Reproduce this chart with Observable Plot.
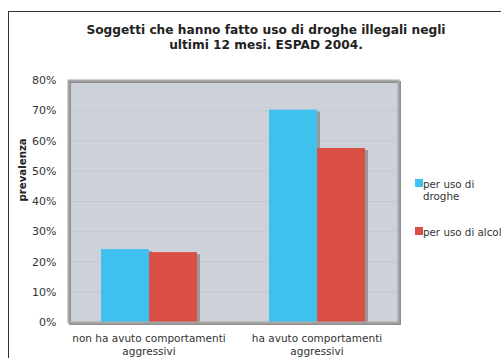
<!DOCTYPE html>
<html>
<head>
<meta charset="utf-8">
<script src="https://cdn.jsdelivr.net/npm/d3@7"></script>
<script src="https://cdn.jsdelivr.net/npm/@observablehq/plot@0.6"></script>
<style>
  body { margin: 0; background: #fff; font-family: Verdana, "DejaVu Sans", sans-serif; }
  #wrap { position: relative; width: 501px; height: 358px; overflow: hidden; }
  #wrap svg { position: absolute; left: 0; top: 0; }
  #outer { position: absolute; left: 8px; top: 11px; width: 600px; height: 400px;
           border-left: 1px solid #333; border-top: 1px solid #333; pointer-events: none; }
  #title { position: absolute; left: 36px; top: 22.5px; width: 460px; text-align: center;
           font-weight: bold; font-size: 12.2px; line-height: 15.5px; color: #222; }
  #legend { position: absolute; left: 415px; top: 177.5px; display: flex; flex-direction: column; gap: 24px; }
  .item { position: relative; padding-left: 8px; width: 84px; font-size: 10.3px; line-height: 12px; color: #333; }
  .sw { position: absolute; left: 0; top: 1.5px; width: 8px; height: 8px; }
</style>
</head>
<body>
<div id="wrap">
  <div id="outer"></div>
  <div id="title"></div>
  <div id="legend"></div>
</div>
<script>
const titleLines = ["Soggetti che hanno fatto uso di droghe illegali negli", "ultimi 12 mesi. ESPAD 2004."];
const categories = ["non ha avuto comportamenti aggressivi", "ha avuto comportamenti aggressivi"];
const series = ["per uso di droghe", "per uso di alcol"];
const droghe = [24.1, 70.2];
const alcol = [23.1, 57.5];
const yTicks = [0, 10, 20, 30, 40, 50, 60, 70, 80];
const colors = ["#3ec1ee", "#d94f43"];
const yLabel = "prevalenza";

const data = categories.flatMap((c, i) => [
  {cat: c, s: series[0], v: droghe[i]},
  {cat: c, s: series[1], v: alcol[i]}
]);

const common = {
  width: 501, height: 358,
  marginLeft: 68, marginRight: 103, marginTop: 80, marginBottom: 36,
  style: {fontFamily: "Verdana, 'DejaVu Sans', sans-serif", fontSize: "10px", color: "#333", background: "transparent"},
  y: {domain: [0, 80], axis: null}
};

// Layer 1: plot area background, grid, y tick labels, y title
const back = Plot.plot({
  ...common,
  marks: [
    Plot.frame({fill: "#cdd1da"}),
    Plot.gridY(yTicks, {stroke: "#c3c7d0", strokeOpacity: 1}),
    Plot.text(yTicks, {y: d => d, text: d => d + "%", frameAnchor: "left", dx: -12, textAnchor: "end", fill: "#333", fontSize: 11}),
    Plot.text([yLabel], {text: d => d, frameAnchor: "left", dx: -46, rotate: -90, fontWeight: "bold", fill: "#222", fontSize: 10.2})
  ]
});

// Layer 2: grouped bars with shadows, category axis
const bars = Plot.plot({
  ...common,
  fx: {domain: categories, paddingInner: 0.42, paddingOuter: 0.19, axis: null, label: null},
  x: {domain: series, padding: 0, axis: null},
  color: {domain: series, range: colors},
  marks: [
    Plot.barY(data, {fx: "cat", x: "s", y: "v", fill: "#999", dx: 3, dy: 2}),
    Plot.barY(data, {fx: "cat", x: "s", y: "v", fill: "s"}),
    Plot.axisFx({anchor: "bottom", tickSize: 0, tickPadding: 11, lineWidth: 16, lineHeight: 1.2, fill: "#333", fontSize: 10.5, label: null})
  ]
});

// Layer 3: plot area border with shadow
const border = Plot.plot({
  ...common,
  marks: [
    Plot.frame({stroke: "#8f8f8f", strokeWidth: 2, dx: 1.5, dy: 1.5}),
    Plot.frame({stroke: "#a8a8a8", strokeWidth: 2})
  ]
});

const wrap = document.getElementById("wrap");
const outer = document.getElementById("outer");
[back, bars, border].forEach(el => wrap.insertBefore(el, outer));

document.getElementById("title").innerHTML = titleLines.join("<br>");
const legend = document.getElementById("legend");
series.forEach((s, i) => {
  const it = document.createElement("div");
  it.className = "item";
  const sw = document.createElement("span");
  sw.className = "sw";
  sw.style.background = colors[i];
  it.appendChild(sw);
  it.appendChild(document.createTextNode(s));
  legend.appendChild(it);
});
</script>
</body>
</html>
